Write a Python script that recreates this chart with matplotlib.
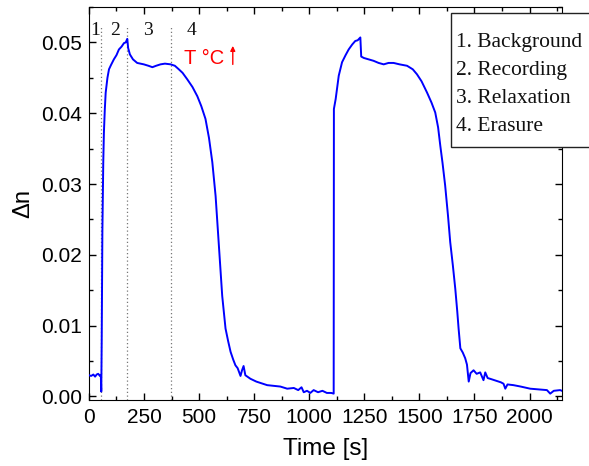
import matplotlib.pyplot as plt

from matplotlib.ticker import MultipleLocator, FormatStrFormatter

from matplotlib.patches import Rectangle


# =========================
# DATA
# =========================

time_s = [
    0, 10, 20, 28, 35, 42, 50, 54, 56, 58, 61, 65, 68, 72, 76, 84, 91,
    100, 113, 125, 136, 148, 159, 167, 174, 178, 186, 200, 219, 235, 249,
    270, 288, 305, 325, 345, 371, 390, 408, 425, 446, 470, 492, 510, 529,
    545, 560, 575, 590, 605, 620, 632, 643, 655, 665, 675, 688, 695, 702,
    710, 733, 760, 790, 809, 840, 869, 900, 930, 950, 965, 975, 990, 1005,
    1020, 1040, 1060, 1080, 1100, 1111,
    1112, 1120, 1134, 1149, 1165, 1179, 1195, 1209, 1220, 1232, 1236, 1248,
    1270, 1292, 1315, 1338, 1360, 1383, 1410, 1444, 1470, 1489, 1510, 1535,
    1555, 1572, 1585, 1595, 1605, 1617, 1630, 1640, 1652, 1663, 1672, 1678,
    1686, 1697, 1708, 1716, 1724, 1732, 1746, 1760, 1776, 1791, 1799, 1810,
    1821, 1850, 1870, 1882, 1890, 1900, 1927, 1960, 2003, 2040, 2079, 2094,
    2110, 2139, 2147
]

delta_n = [
    0.0030, 0.0029, 0.0031, 0.0028, 0.0031, 0.0032, 0.0029, 0.0030, 0.0007,
    0.0080, 0.0232, 0.0330, 0.0373, 0.0405, 0.0429, 0.0450, 0.0462, 0.0468,
    0.0476, 0.0482, 0.0490, 0.0494, 0.0499, 0.0500, 0.0505, 0.0492, 0.0483,
    0.0476, 0.0471, 0.0470, 0.0469, 0.0467, 0.0465, 0.0467, 0.0469, 0.0470,
    0.0469, 0.0467, 0.0462, 0.0457, 0.0448, 0.0437, 0.0424, 0.0410, 0.0392,
    0.0365, 0.0331, 0.0283, 0.0213, 0.0142, 0.0096, 0.0078, 0.0063, 0.0052,
    0.0044, 0.0040, 0.0029, 0.0037, 0.0043, 0.0030, 0.0025, 0.0021, 0.0018,
    0.0016, 0.0015, 0.0014, 0.0011, 0.0012, 0.0009, 0.0013, 0.0006, 0.0008,
    0.0005, 0.0009, 0.0006, 0.0008, 0.0005, 0.0005, 0.0004,
    0.0406, 0.0420, 0.0453, 0.0472, 0.0482, 0.0490, 0.0497, 0.0502, 0.0503,
    0.0507, 0.0480, 0.0478, 0.0476, 0.0474, 0.0471, 0.0469, 0.0471, 0.0471,
    0.0469, 0.0467, 0.0462, 0.0455, 0.0445, 0.0429, 0.0415, 0.0401, 0.0380,
    0.0354, 0.0330, 0.0298, 0.0255, 0.0218, 0.0185, 0.0152, 0.0120, 0.0096,
    0.0068, 0.0062, 0.0054, 0.0045, 0.0021, 0.0033, 0.0037, 0.0032, 0.0034,
    0.0023, 0.0034, 0.0026, 0.0025, 0.0022, 0.0020, 0.0018, 0.0011, 0.0017,
    0.0016, 0.0014, 0.0011, 0.0010, 0.0009, 0.0004, 0.0008, 0.0009, 0.0008
]

phase_bounds = [56, 174, 374]

phase_labels = ["1", "2", "3", "4"]
phase_label_x = [30, 117, 270, 465]

legend_lines = [
    "1. Background",
    "2. Recording",
    "3. Relaxation",
    "4. Erasure"
]


# =========================
# FIGURE
# =========================

fig = plt.figure(figsize=(5.89, 4.66), dpi=100)

ax = fig.add_axes([0.151, 0.1416, 0.803, 0.8434])

ax.plot(time_s, delta_n, color="#0000FF", linewidth=1.4, zorder=3)

# =========================
# PHASE MARKERS
# =========================

for xb in phase_bounds:
    ax.plot([xb, xb], [-0.0005, 0.0522], color="#777777",
            linestyle=(0, (1, 2)), linewidth=0.9, zorder=2)

for lbl, lx in zip(phase_labels, phase_label_x):
    ax.text(lx, 0.0517, lbl, ha="center", va="center",
            fontsize=14, family="Liberation Serif", color="#111111")

ax.text(525, 0.0477, "T °C", ha="center", va="center",
        fontsize=14.5, family="Liberation Sans", color="#FF0000")

ax.annotate("", xy=(653, 0.0499), xytext=(653, 0.0465),
            arrowprops=dict(arrowstyle="-|>", color="#FF0000",
                            lw=1.0, mutation_scale=7))

# =========================
# AXES
# =========================

ax.set_xlim(0, 2147)
ax.set_ylim(-0.0005, 0.055)

ax.xaxis.set_major_locator(MultipleLocator(250))
ax.xaxis.set_minor_locator(MultipleLocator(125))
ax.yaxis.set_major_locator(MultipleLocator(0.01))
ax.yaxis.set_minor_locator(MultipleLocator(0.005))
ax.yaxis.set_major_formatter(FormatStrFormatter("%.2f"))

ax.tick_params(which="both", direction="in", top=True, right=True,
               labelsize=15, width=1.0)
ax.tick_params(which="major", length=5)
ax.tick_params(which="minor", length=3)
ax.tick_params(axis="x", pad=6)
ax.tick_params(axis="y", pad=5)

for lab in ax.get_xticklabels() + ax.get_yticklabels():
    lab.set_family("Liberation Sans")

ax.set_xlabel("Time [s]", fontsize=17.5, family="Liberation Sans",
              labelpad=8)
ax.set_ylabel("Δn", fontsize=17, family="Liberation Sans", labelpad=5)

# =========================
# LEGEND BOX
# =========================

box = Rectangle((451 / 589, 1 - 147 / 466), 0.3, (147 - 13) / 466,
                transform=fig.transFigure, facecolor="white",
                edgecolor="#222222", linewidth=1.0, zorder=5)
fig.patches.append(box)

for i, line in enumerate(legend_lines):
    fig.text(456 / 589, 1 - (42 + 28.3 * i) / 466, line,
             ha="left", va="center", fontsize=15.5,
             family="Liberation Serif", color="#111111", zorder=6)

fig.savefig("out.png", dpi=100)
